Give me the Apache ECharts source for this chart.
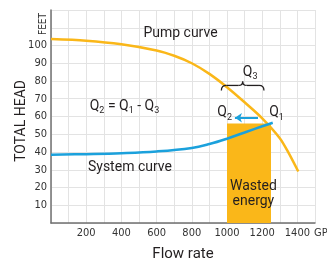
<!DOCTYPE html>
<html>
<head>
<meta charset="utf-8">
<script src="https://cdn.jsdelivr.net/npm/echarts@6/dist/echarts.min.js"></script>
<style>
html, body { margin: 0; padding: 0; background: #fff; }
#chart { width: 327px; height: 259px; }
</style>
</head>
<body>
<div id="chart"></div>
<script>
// tick labels that are printed
const xTicks = [200, 400, 600, 800, 1000, 1200, 1400];
const yTicks = [10, 20, 30, 40, 50, 60, 70, 80, 90, 100];

// pump curve (flow in GPM, head in feet)
const pumpFlow = [0, 200, 400, 600, 700, 800, 900, 1000, 1100, 1200, 1300, 1350, 1405];
const pumpHead = [103.6, 102.7, 100.7, 97.2, 94.2, 90, 84, 76.5, 68, 59, 47.8, 39.5, 29];

// system curve
const systemFlow = [0, 200, 400, 600, 800, 900, 1000, 1100, 1200, 1260];
const systemHead = [38.5, 38.8, 39.3, 40.3, 42.3, 44.5, 47.5, 51, 54.5, 56.5];

// wasted energy block, Q1 -> Q2 arrow, Q3 brace
const wastedFlow = [1000, 1250];
const wastedHead = 56;
const shiftFlow = [1176, 1045];
const shiftHead = 59.3;
const q3Flow = [968, 1210];
const q3Head = 77.5;

const NARROW = '"Liberation Sans Narrow", "DejaVu Sans Condensed", Roboto, sans-serif';
const TEXT = 'Roboto, "Noto Sans", sans-serif';
const ORANGE = '#fab719';
const BLUE = '#1ba1dc';
const INK = '#231f20';

const pairs = (xs, ys) => xs.map((x, i) => [x, ys[i]]);

const chart = echarts.init(document.getElementById('chart'));

const option = {
	animation: false,
	grid: { left: 51, right: 12, top: 10, bottom: 36, outerBoundsMode: 'none', containLabel: false },
	xAxis: {
		type: 'value', min: 0, max: 1500, interval: 100,
		name: 'Flow rate', nameLocation: 'middle', nameGap: 24,
		nameTextStyle: { fontFamily: TEXT, fontSize: 15, color: INK },
		axisLine: { lineStyle: { color: '#707070', width: 1.5 } },
		axisTick: { show: false },
		axisLabel: {
			interval: 0, margin: 5, fontSize: 11, fontFamily: NARROW, color: '#333',
			formatter: v => xTicks.includes(v) ? String(v) : ''
		},
		splitLine: { lineStyle: { color: '#e3e3e3' } }
	},
	yAxis: {
		type: 'value', min: 0, max: 120, interval: 10,
		axisLine: { show: true, lineStyle: { color: '#707070', width: 1.5 } },
		axisTick: { show: false },
		axisLabel: {
			interval: 0, margin: 4, fontSize: 11, fontFamily: NARROW, color: '#333',
			formatter: v => yTicks.includes(v) ? String(v) : ''
		},
		splitLine: { lineStyle: { color: '#e3e3e3' } }
	},
	series: [
		{
			name: 'System curve', type: 'line', smooth: 0.4, showSymbol: false,
			data: pairs(systemFlow, systemHead),
			lineStyle: { color: BLUE, width: 2.5 },
			z: 3,
			markArea: {
				silent: true,
				itemStyle: { color: ORANGE, opacity: 1 },
				data: [[{ xAxis: wastedFlow[0], yAxis: 0 }, { xAxis: wastedFlow[1], yAxis: wastedHead }]]
			},
			markLine: {
				silent: true,
				symbol: ['none', 'arrow'],
				symbolSize: 7,
				label: { show: false },
				lineStyle: { color: BLUE, width: 2, type: 'solid' },
				data: [[{ coord: [shiftFlow[0], shiftHead] }, { coord: [shiftFlow[1], shiftHead] }]]
			}
		},
		{
			name: 'Pump curve', type: 'line', smooth: 0.3, showSymbol: false,
			data: pairs(pumpFlow, pumpHead),
			lineStyle: { color: ORANGE, width: 2.5 },
			z: 2
		}
	]
};
chart.setOption(option);

// annotations placed through the chart's own scales
const px = (x, y) => chart.convertToPixel({ gridIndex: 0 }, [x, y]);
const qRich = {
	q: { fontFamily: TEXT, fontSize: 14, color: INK, lineHeight: 18, verticalAlign: 'middle' },
	s: { fontFamily: TEXT, fontSize: 9, color: INK, verticalAlign: 'bottom', lineHeight: 18 }
};
function label(at, text, extra) {
	return {
		type: 'text', x: at[0], y: at[1], z: 10,
		style: Object.assign({
			text: text, fill: INK, font: '14px ' + TEXT,
			align: 'left', verticalAlign: 'middle', rich: qRich
		}, extra || {})
	};
}

// curly brace over Q3, built from quadratic curves and lines
const b1 = px(q3Flow[0], q3Head), b2 = px(q3Flow[1], q3Head);
const bm = (b1[0] + b2[0]) / 2, by = b1[1];
const braceStyle = { stroke: INK, lineWidth: 1.3, fill: null };
const bez = (x1, y1, cx, cy, x2, y2) => ({
	type: 'bezierCurve', z: 10, silent: true,
	shape: { x1: x1, y1: y1, cpx1: cx, cpy1: cy, x2: x2, y2: y2 },
	style: braceStyle
});
const seg = (x1, y1, x2, y2) => ({
	type: 'line', z: 10, silent: true,
	shape: { x1: x1, y1: y1, x2: x2, y2: y2 },
	style: braceStyle
});
const brace = [
	bez(b1[0], by + 5, b1[0], by, b1[0] + 5, by),
	seg(b1[0] + 5, by, bm - 4, by),
	bez(bm - 4, by, bm, by, bm, by - 4),
	bez(bm, by - 4, bm, by, bm + 4, by),
	seg(bm + 4, by, b2[0] - 5, by),
	bez(b2[0] - 5, by, b2[0], by, b2[0], by + 5)
];

const axisEnd = px(1500, 0);
const yTop = px(0, 120);
const yMid = px(0, 57.5);

chart.setOption({
	graphic: [
		label(px(525, 106.5), 'Pump curve'),
		label(px(220, 65.5), '{q|Q}{s|2}{q| = Q}{s|1}{q| - Q}{s|3}'),
		label(px(1090, 85), '{q|Q}{s|3}'),
		label(px(945, 62), '{q|Q}{s|2}'),
		label(px(1240, 62), '{q|Q}{s|1}'),
		label(px(210, 31.5), 'System curve'),
		label(px(1150, 16.5), 'Wasted\nenergy', { align: 'center', lineHeight: 15 }),
		{
			type: 'text', x: yMid[0] - 30, y: yMid[1], rotation: Math.PI / 2, z: 10,
			style: { text: 'TOTAL HEAD', font: '14px ' + TEXT, fill: INK, align: 'center', verticalAlign: 'middle' }
		},
		{
			type: 'text', x: axisEnd[0] - 1, y: axisEnd[1] + 10, z: 10,
			style: { text: 'GPM', font: '11px ' + NARROW, fill: '#333', align: 'left', verticalAlign: 'middle' }
		},
		{
			type: 'text', x: yTop[0] - 8, y: yTop[1] + 14, rotation: Math.PI / 2, z: 10,
			style: { text: 'FEET', font: '10px ' + NARROW, fill: '#333', align: 'center', verticalAlign: 'middle' }
		}
	].concat(brace)
});
</script>
</body>
</html>
